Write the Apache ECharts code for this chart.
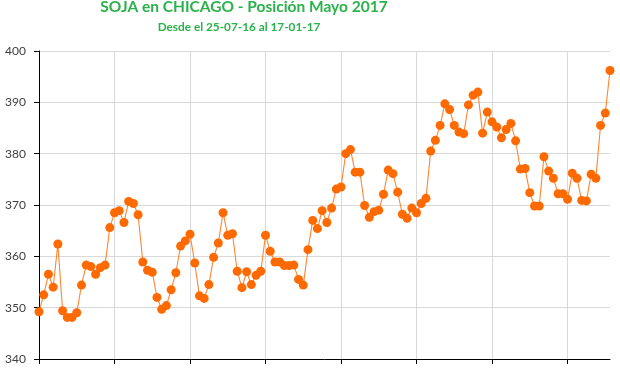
<!DOCTYPE html>
<html>
<head>
<meta charset="utf-8">
<script src="https://cdn.jsdelivr.net/npm/echarts@6/dist/echarts.min.js"></script>
<style>html,body{margin:0;padding:0;background:#fff}#c{width:620px;height:375px}</style>
</head>
<body>
<div id="c"></div>
<script>
var titleText = 'SOJA en CHICAGO - Posición Mayo 2017';
var subtitleText = 'Desde el 25-07-16 al 17-01-17';
var dates = [
'25-07-16','26-07-16','27-07-16','28-07-16','29-07-16',
'01-08-16','02-08-16','03-08-16','04-08-16','05-08-16','08-08-16','09-08-16','10-08-16','11-08-16','12-08-16',
'15-08-16','16-08-16','17-08-16','18-08-16','19-08-16','22-08-16','23-08-16','24-08-16','25-08-16','26-08-16',
'29-08-16','30-08-16','31-08-16',
'01-09-16','02-09-16','06-09-16','07-09-16','08-09-16','09-09-16','12-09-16','13-09-16','14-09-16','15-09-16','16-09-16',
'19-09-16','20-09-16','21-09-16','22-09-16','23-09-16','26-09-16','27-09-16','28-09-16','29-09-16','30-09-16',
'03-10-16','04-10-16','05-10-16','06-10-16','07-10-16','10-10-16','11-10-16','12-10-16','13-10-16','14-10-16',
'17-10-16','18-10-16','19-10-16','20-10-16','21-10-16','24-10-16','25-10-16','26-10-16','27-10-16','28-10-16','31-10-16',
'01-11-16','02-11-16','03-11-16','04-11-16','07-11-16','08-11-16','09-11-16','10-11-16','11-11-16',
'14-11-16','15-11-16','16-11-16','17-11-16','18-11-16','21-11-16','22-11-16','23-11-16','25-11-16',
'28-11-16','29-11-16','30-11-16',
'01-12-16','02-12-16','05-12-16','06-12-16','07-12-16','08-12-16','09-12-16','12-12-16','13-12-16','14-12-16','15-12-16','16-12-16',
'19-12-16','20-12-16','21-12-16','22-12-16','23-12-16','27-12-16','28-12-16','29-12-16','30-12-16',
'03-01-17','04-01-17','05-01-17','06-01-17','09-01-17','10-01-17','11-01-17','12-01-17','13-01-17','17-01-17'
];
var prices = [
349.2,352.5,356.5,354.0,362.4,349.4,348.1,348.1,349.0,354.4,
358.3,358.0,356.5,357.8,358.3,365.6,368.5,368.9,366.6,370.7,
370.3,368.1,358.9,357.3,356.9,352.0,349.7,350.4,353.5,356.8,
362.0,363.0,364.3,358.7,352.3,351.8,354.5,359.8,362.6,368.5,
364.1,364.4,357.1,353.9,357.0,354.5,356.3,357.1,364.1,361.0,
358.9,358.9,358.2,358.2,358.3,355.5,354.4,361.3,367.0,365.4,
368.9,366.6,369.4,373.1,373.5,380.0,380.8,376.4,376.4,369.9,
367.6,368.7,369.0,372.1,376.8,376.1,372.5,368.2,367.4,369.4,
368.5,370.3,371.3,380.5,382.6,385.5,389.7,388.6,385.5,384.2,
383.9,389.5,391.4,392.0,384.0,388.1,386.2,385.2,383.1,384.7,
385.9,382.5,377.0,377.1,372.4,369.8,369.8,379.4,376.6,375.2,
372.2,372.2,371.1,376.2,375.2,370.9,370.8,376.0,375.2,385.5,
387.9,396.2
];
var yMin = 340, yMax = 400, yStep = 10;

var chart = echarts.init(document.getElementById('c'), null, {renderer: 'canvas'});
chart.setOption({
  animation: false,
  backgroundColor: '#ffffff',
  title: [
    {text: titleText, left: 239, textAlign: 'center', top: -6,
     textStyle: {color: '#2ab24b', fontFamily: 'Lato', fontWeight: 'bold', fontSize: 15.5}},
    {text: subtitleText, left: 234, textAlign: 'center', top: 16,
     textStyle: {color: '#2ab24b', fontFamily: 'Lato', fontWeight: 'bold', fontSize: 11.8}}
  ],
  grid: {left: 39, right: 10, top: 51, bottom: 16, containLabel: false},
  xAxis: {
    type: 'category', data: dates, boundaryGap: false,
    axisLine: {lineStyle: {color: '#000', width: 1}},
    axisTick: {show: true, interval: 15, length: 5, lineStyle: {color: '#000'}},
    axisLabel: {show: false},
    splitLine: {show: true, interval: 15, lineStyle: {color: '#d9d9d9', width: 1}}
  },
  yAxis: {
    type: 'value', min: yMin, max: yMax, interval: yStep,
    axisLine: {show: true, lineStyle: {color: '#000', width: 1}},
    axisTick: {show: true, length: 5, lineStyle: {color: '#000'}},
    axisLabel: {margin: 13, color: '#404040', fontFamily: 'Lato', fontSize: 12},
    splitLine: {show: true, lineStyle: {color: '#d9d9d9', width: 1}}
  },
  series: [{
    type: 'line', data: prices,
    symbol: 'circle', symbolSize: 9, showAllSymbol: true,
    lineStyle: {color: '#ff8533', width: 1.1},
    itemStyle: {color: '#ff6a00', borderColor: '#ff6a00', borderWidth: 0}
  }]
});
</script>
</body>
</html>
